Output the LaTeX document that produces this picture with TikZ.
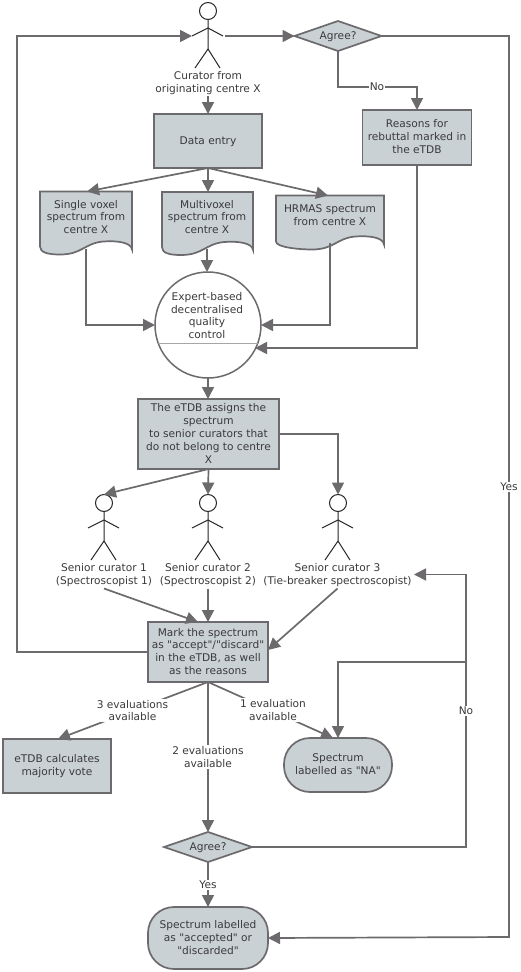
\documentclass[tikz,border=0pt]{standalone}
\usepackage{fontspec}
\setmainfont{DejaVu Sans}[Ligatures=TeXOff]
\usetikzlibrary{arrows.meta,shapes.geometric}
\definecolor{ln}{HTML}{6C6A6D}
\definecolor{fl}{HTML}{C9D1D5}
\definecolor{tx}{HTML}{3A3A3C}
\newcommand{\stickfig}[3]{%
  \node[headc] (#1) at (#2,#3) {};
  \draw[stickl] (#1.south) -- (#2,#3+38) -- (#2-13,#3+57);
  \draw[stickl] (#2,#3+38) -- (#2+12,#3+57);
  \draw[stickl] (#2-16,#3+25) -- (#2,#3+17) -- (#2+15,#3+25);
}
\newcommand{\docshape}[4]{%
  \draw[boxs] (#1,#2) -- (#1+#3,#2) -- (#1+#3,#2+#4)
    .. controls (#1+#3-1,#2+#4-7) and (#1+#3-14,#2+#4-9) .. (#1+#3-29,#2+#4-8)
    .. controls (#1+#3-48,#2+#4-6) and (#1+#3-50,#2+#4+5) .. (#1+#3-72,#2+#4+5)
    .. controls (#1+#3-84,#2+#4+5) and (#1,#2+#4+3) .. (#1,#2+#4-3) -- cycle;
}
\newcommand{\tl}[1]{\raisebox{-0.8pt}[\height][\depth]{\begin{tabular}{@{}c@{}}#1\end{tabular}}}
\tikzset{
  x=1pt,y=-1pt,
  every node/.style={text=tx,font=\fontsize{10.6}{12.9}\selectfont,align=center,inner sep=0pt,outer sep=0pt},
  boxs/.style={draw=ln,fill=fl,line width=1.7pt},
  pbox/.style={boxs,rectangle,minimum width=#1},
  conn/.style={draw=ln,line width=1.7pt,-{Triangle[length=12pt,width=12pt]}},
  lab/.style={fill=white,inner xsep=1pt,inner ysep=1pt},
  headc/.style={circle,draw=black!85,fill=white,line width=1pt,minimum size=17pt},
  stickl/.style={draw=black!85,line width=1pt},
  dia/.style={boxs,diamond,aspect=2.9,minimum width=87pt,minimum height=30pt},
  stad/.style={boxs,rectangle,rounded corners=26pt},
}
\begin{document}
\begin{tikzpicture}
\useasboundingbox (0,0) rectangle (520,972);
\fill[white] (0,0) rectangle (520,972);

% figures
\stickfig{cur}{208}{11}
\stickfig{sc1}{104}{503}
\stickfig{sc2}{208}{503}
\stickfig{sc3}{338}{503}
\coordinate (curL) at (192,36);
\coordinate (curR) at (225,36);

% labels for figures
\node[minimum height=26pt] (curlab) at (208,83) {Curator from\\originating centre X};
\node[minimum height=26pt] (sc1lab) at (104,575.5) {Senior curator 1\\(Spectroscopist 1)};
\node[minimum height=26pt] (sc2lab) at (208,575.5) {Senior curator 2\\(Spectroscopist 2)};
\node[minimum height=26pt] (sc3lab) at (337.5,575.5) {Senior curator 3\\(Tie-breaker spectroscopist)};

% boxes
\node[dia] (ag1) at (338,36) {\tl{Agree?}};
\node[pbox=108pt,minimum height=54pt] (data) at (208,141) {\tl{Data entry}};
\node[pbox=109pt,minimum height=55pt] (reasons) at (417,137.5) {\tl{Reasons for\\rebuttal marked in\\the eTDB}};

\docshape{40}{191.5}{92}{58}
\docshape{162}{192}{91}{58}
\docshape{276}{195.5}{108}{49}
\node[minimum width=92pt,minimum height=57pt] (single) at (86,217) {Single voxel\\spectrum from\\centre X};
\node[minimum width=91pt,minimum height=57pt] (multi) at (207,217) {Multivoxel\\spectrum from\\centre X};
\node[minimum width=108pt,minimum height=28pt] (hrmas) at (330,215.5) {HRMAS spectrum\\from centre X};
\coordinate (singleB) at (86,249);
\coordinate (multiB) at (207,249);
\coordinate (hrmasB) at (330,243);
\coordinate (singleT) at (87,191.5);
\coordinate (hrmasT) at (328,195.5);

\node[circle,draw=ln,fill=white,line width=1.5pt,minimum size=106pt] (qc) at (208,325) {};
\draw[black!35,line width=0.7pt] (qc.center) ++(-51,18) coordinate (qcL) -- ++(102,0) coordinate (qcR);
\node (qctext) at (207,315.5) {Expert-based\\decentralised\\quality\\control};

\node[pbox=141pt,minimum height=70pt] (assign) at (208.5,434) {\tl{The eTDB assigns the\\spectrum\\ to senior curators that\\do not belong to centre\\X}};
\node[pbox=120pt,minimum height=60pt] (mark) at (208,652) {\tl{Mark the spectrum\\as "accept"/"discard"\\in the eTDB, as well\\as the reasons}};
\node[pbox=108pt,minimum height=54pt] (major) at (57,766) {\tl{eTDB calculates\\majority vote}};
\node[stad,minimum width=108pt,minimum height=54pt] (na) at (338,765) {\tl{Spectrum\\labelled as "NA"}};
\node[dia,minimum width=88pt] (ag2) at (208,847) {\tl{Agree?}};
\node[stad,minimum width=120pt,minimum height=62pt] (final) at (208,938) {\tl{Spectrum labelled\\as "accepted" or\\"discarded"}};

% connectors
\coordinate (loopTL) at (17,36);
\coordinate (loopBL) at (17,652);
\draw[conn] (mark.west) -- (loopBL) -- (loopTL) -- (curL);
\draw[conn] (curR) -- (ag1.west);
\coordinate (yesTR) at (509,36);
\coordinate (yesBR) at (509,937);
\draw[conn] (ag1.east) -- (yesTR) -- (yesBR) -- (final.east);
\node[lab] (yes1) at (509,487) {Yes};
\coordinate (n1a) at (338,87);
\coordinate (n1b) at (417,87);
\draw[conn] (ag1.south) -- (n1a) -- (n1b) -- (reasons.north);
\node[lab] (no1) at (377,87) {No};
\draw[conn] (curlab.south) -- (data.north);
\draw[conn] (data.south) -- (singleT);
\draw[conn] (data.south) -- (208,192);
\draw[conn] (data.south) -- (hrmasT);
\coordinate (s1) at (86,325);
\draw[conn] (singleB) -- (s1) -- (qc.west);
\draw[conn] (multiB) -- (multiB |- qc.north);
\coordinate (h1) at (330,325);
\draw[conn] (hrmasB) -- (h1) -- (qc.east);
\coordinate (r1) at (417,348);
\coordinate (r2) at (255,348);
\draw[conn] (reasons.south) -- (r1) -- (r2);
\draw[conn] (qc.south) -- (208,399);
\draw[conn] (assign.south) -- (sc1.north);
\draw[conn] (assign.south) -- (sc2.north);
\coordinate (a1) at (338,434);
\draw[conn] (assign.east) -- (a1) -- (sc3.north);
\coordinate (mk1) at (198,622);
\coordinate (mk3) at (268,650);
\draw[conn] (sc1lab.south) -- (mk1);
\draw[conn] (sc2lab.south) -- (mark.north);
\draw[conn] (sc3lab.south) -- (mk3);
\coordinate (maj) at (58,739);
\draw[conn] (mark.south) -- (maj);
\node[lab] (e3) at (132.5,710.5) {3 evaluations\\available};
\draw[conn] (mark.south) -- (ag2.north);
\node[lab] (e2) at (208,757) {2 evaluations\\available};
\coordinate (naT) at (333,738);
\draw[conn] (mark.south) -- (naT);
\node[lab] (e1) at (273,710) {1 evaluation\\available};
\coordinate (nc) at (466,847);
\coordinate (nt) at (466,574.5);
\coordinate (nf) at (414,574.5);
\draw[conn] (ag2.east) -- (nc) -- (nt) -- (nf);
\coordinate (nb) at (466,662);
\coordinate (nb2) at (338,662);
\draw[conn] (nb) -- (nb2) -- (na.north);
\node[lab] (no2) at (466,711) {No};
\draw[conn] (ag2.south) -- (final.north);
\node[lab] (yes2) at (208,885) {Yes};
\end{tikzpicture}
\end{document}
